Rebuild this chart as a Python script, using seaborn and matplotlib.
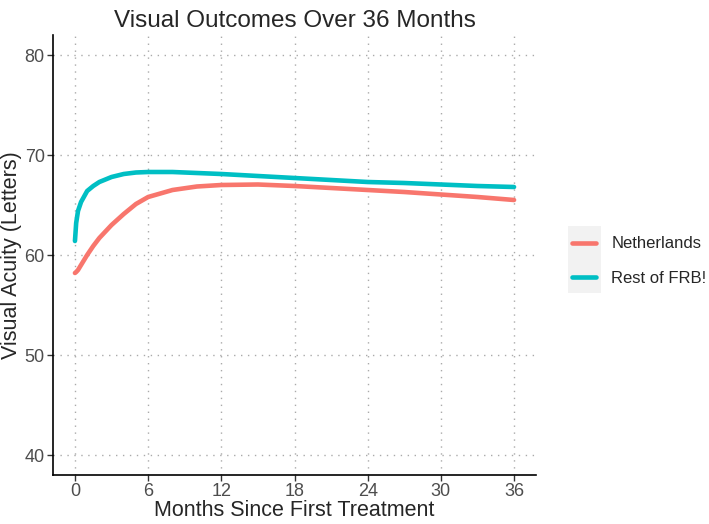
import pandas as pd
import matplotlib
matplotlib.use('Agg')
import matplotlib.pyplot as plt
import seaborn as sns
from matplotlib.patches import Rectangle

# values
months = [0, 0.1, 0.25, 0.5, 1, 1.5, 2, 3, 4, 5, 6, 8, 10, 12, 15, 18, 21, 24, 27, 30, 33, 36]
netherlands = [58.2, 58.3, 58.5, 59.0, 60.0, 60.9, 61.7, 63.0, 64.1, 65.1, 65.8, 66.5, 66.85, 67.0,
               67.05, 66.9, 66.7, 66.5, 66.3, 66.05, 65.8, 65.5]
rest_frb = [61.4, 63.2, 64.4, 65.3, 66.4, 66.9, 67.3, 67.8, 68.1, 68.25, 68.3, 68.3, 68.2, 68.1,
            67.9, 67.7, 67.5, 67.3, 67.2, 67.05, 66.9, 66.8]
groups = ['Netherlands', 'Rest of FRB!']
colors = ['#F8766D', '#00BFC4']
x_ticks = [0, 6, 12, 18, 24, 30, 36]
y_ticks = [40, 50, 60, 70, 80]

df = pd.DataFrame({
    'Month': months * 2,
    'VA': netherlands + rest_frb,
    'Group': [groups[0]] * len(months) + [groups[1]] * len(months),
})

sns.set_style('white')
plt.rcParams['font.family'] = ['Liberation Sans', 'DejaVu Sans']

fig = plt.figure(figsize=(7.09, 5.24), dpi=100)
ax = fig.add_axes([53 / 709, 1 - 475 / 524, (536 - 53) / 709, (475 - 35) / 524])

sns.lineplot(data=df, x='Month', y='VA', hue='Group', palette=dict(zip(groups, colors)),
             linewidth=3.3, ax=ax, legend=False)

ax.set_xlim(-1.8, 37.8)
ax.set_ylim(38, 82)
ax.set_xticks(x_ticks)
ax.set_yticks(y_ticks)
ax.grid(True, linestyle=(0, (1, 4)), color='#AAAAAA', linewidth=1)
ax.set_axisbelow(True)
for s in ['top', 'right']:
    ax.spines[s].set_visible(False)
for s in ['left', 'bottom']:
    ax.spines[s].set_color('black')
    ax.spines[s].set_linewidth(1.2)
ax.tick_params(axis='both', direction='out', length=4, width=1, color='#333333',
               labelcolor='#4D4D4D', labelsize=13, pad=2, bottom=True, left=True)

ax.set_title('Visual Outcomes Over 36 Months', fontsize=17.5, pad=6)
ax.set_xlabel('Months Since First Treatment', fontsize=15.5, labelpad=0)
ax.set_ylabel('Visual Acuity (Letters)', fontsize=15.5, labelpad=2)

# legend with grey key background
fig.patches.append(Rectangle((568 / 709, 1 - 293 / 524), 33 / 709, 67 / 524,
                             transform=fig.transFigure, facecolor='#F2F2F2',
                             edgecolor='none', zorder=0))
handles = [plt.Line2D([], [], color=c, linewidth=3.3) for c in colors]
fig.legend(handles, groups, loc='center left', bbox_to_anchor=(572 / 709, 1 - 261 / 524),
           frameon=False, fontsize=12, handlelength=1.45, handletextpad=0.9,
           labelspacing=1.15, borderaxespad=0, borderpad=0)

fig.savefig('out.png', dpi=100)
